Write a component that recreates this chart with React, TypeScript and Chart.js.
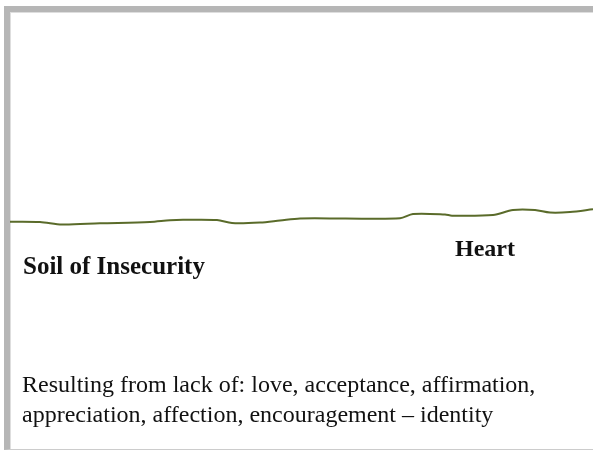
import React, { useEffect, useRef } from "react";
import { Chart, registerables } from "chart.js";

Chart.register(...registerables);

// Ground line profile (horizontal position, elevation above the bottom of the page)
const groundX = [10, 40, 62, 100, 150, 170, 183, 217, 232, 260, 280, 300, 345, 400, 413, 445, 452, 493, 513, 535, 550, 570, 593];
const groundY = [230.3, 230, 227.5, 228.7, 230, 231.8, 232.2, 232, 229, 229.5, 231.5, 233.5, 233.5, 233.7, 238, 237.5, 236.3, 237, 242, 242, 239.5, 240, 242.7];

const labelTexts = ["Heart", "Soil of Insecurity"];
const labelX = [455, 23];
const labelY = [196, 178];
const labelSizes = [24, 25];

const captionLines = [
  "Resulting from lack of: love, acceptance, affirmation,",
  "appreciation, affection, encouragement – identity",
];
const captionX = 22;
const captionY = [60, 30];

const textPlugin = {
  id: "texts",
  afterDraw(chart: any) {
    const { ctx, scales } = chart;
    const xs = scales.x;
    const ys = scales.y;
    ctx.save();
    ctx.fillStyle = "#111111";
    ctx.textBaseline = "alphabetic";
    ctx.textAlign = "left";
    labelTexts.forEach((t, i) => {
      ctx.font = `bold ${labelSizes[i]}px 'Liberation Serif'`;
      ctx.fillText(t, xs.getPixelForValue(labelX[i]), ys.getPixelForValue(labelY[i]));
    });
    ctx.font = "24px 'Liberation Serif'";
    captionLines.forEach((t, i) => {
      ctx.fillText(t, xs.getPixelForValue(captionX), ys.getPixelForValue(captionY[i]));
    });
    ctx.restore();
  },
};

export default function App() {
  const ref = useRef<HTMLCanvasElement>(null);
  useEffect(() => {
    if (!ref.current) return;
    const chart = new Chart(ref.current, {
      type: "line",
      data: {
        datasets: [
          {
            data: groundX.map((x, i) => ({ x, y: groundY[i] })),
            borderColor: "#5a6b2a",
            borderWidth: 2,
            pointRadius: 0,
            tension: 0.3,
            fill: false,
          },
        ],
      },
      options: {
        animation: false,
        responsive: false,
        maintainAspectRatio: false,
        layout: { padding: 0 },
        plugins: { legend: { display: false }, tooltip: { enabled: false }, title: { display: false } },
        scales: {
          x: { type: "linear", min: 0, max: 593, display: false },
          y: { type: "linear", min: 0, max: 452, display: false },
        },
      },
      plugins: [textPlugin],
    });
    return () => chart.destroy();
  }, []);

  return (
    <div style={{ position: "absolute", left: 0, top: 0, width: 593, height: 452, background: "#ffffff" }}>
      <div
        style={{
          position: "absolute",
          left: 4,
          top: 6,
          width: 589,
          height: 444,
          borderLeft: "6px solid #b6b6b6",
          borderTop: "6px solid #b6b6b6",
          borderBottom: "1px solid #cccccc",
          boxSizing: "border-box",
        }}
      >
        <div
          style={{
            position: "absolute",
            left: 0,
            top: 0,
            right: 0,
            bottom: 0,
            borderLeft: "1px solid #dedede",
            borderTop: "1px solid #dedede",
          }}
        />
      </div>
      <canvas ref={ref} width={593} height={452} style={{ position: "absolute", left: 0, top: 0 }} />
    </div>
  );
}
